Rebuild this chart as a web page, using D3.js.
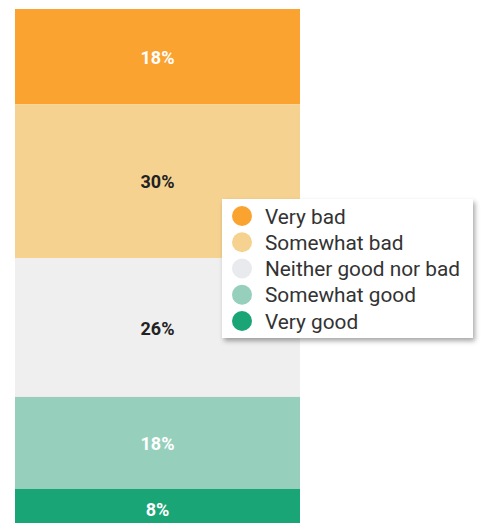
<!DOCTYPE html>
<html>
<head>
<meta charset="utf-8">
<script src="https://cdn.jsdelivr.net/npm/d3@7"></script>
<style>
  body { margin: 0; background: #fff; }
  svg { display: block; font-family: Roboto, "Noto Sans", sans-serif; }
</style>
</head>
<body>
<svg id="chart" width="481" height="523"></svg>
<script>
// answers, top to bottom of the bar
var categories = ['Very bad', 'Somewhat bad', 'Neither good nor bad', 'Somewhat good', 'Very good'];
var shares = [18.3, 29.6, 26.7, 17.7, 7.7];
var shareLabels = ['18%', '30%', '26%', '18%', '8%'];
var colors = ['#fba330', '#f6d291', '#efefef', '#96d0bc', '#1aa577'];
var labelColors = ['#fff', '#222', '#222', '#fff', '#fff'];

var svg = d3.select('#chart');

var BAR_LEFT = 15, BAR_RIGHT = 300;

// stack the shares
var stacked = [];
var acc = 0;
for (var i = 0; i < shares.length; i++) {
  stacked.push({ name: categories[i], y0: acc, y1: acc + shares[i], label: shareLabels[i], i: i });
  acc += shares[i];
}

var yScale = d3.scaleLinear()
  .domain([0, 100])
  .range([9, 529]);

var xScale = d3.scaleBand()
  .domain(['all'])
  .range([BAR_LEFT, BAR_RIGHT])
  .padding(0);

var bars = svg.append('g').attr('id', 'bars');

bars.selectAll('rect')
  .data(stacked)
  .enter()
  .append('rect')
  .attr('x', xScale('all'))
  .attr('width', xScale.bandwidth())
  .attr('y', function (d) { return yScale(d.y0); })
  .attr('height', function (d) { return yScale(d.y1) - yScale(d.y0); })
  .style('fill', function (d) { return colors[d.i]; });

bars.selectAll('text')
  .data(stacked)
  .enter()
  .append('text')
  .attr('x', xScale('all') + xScale.bandwidth() / 2)
  .attr('y', function (d) { return (yScale(d.y0) + yScale(d.y1)) / 2 + 1; })
  .attr('dy', '0.35em')
  .attr('text-anchor', 'middle')
  .style('font-size', '18px')
  .style('font-weight', 'bold')
  .style('fill', function (d) { return labelColors[d.i]; })
  .text(function (d) { return d.label; });

// ##### Legend #####
var defs = svg.append('defs');
var shadow = defs.append('filter').attr('id', 'shadow')
  .attr('x', '-10%').attr('y', '-10%').attr('width', '130%').attr('height', '130%');
shadow.append('feDropShadow')
  .attr('dx', 2).attr('dy', 3).attr('stdDeviation', 2.5)
  .attr('flood-color', '#000').attr('flood-opacity', 0.35);

var legend = svg.append('g').attr('transform', 'translate(222, 199)');

legend.append('rect')
  .attr('width', 251)
  .attr('height', 139)
  .style('fill', '#fff')
  .attr('filter', 'url(#shadow)');

var rowScale = d3.scalePoint()
  .domain(categories)
  .range([17, 122]);

var rows = legend.selectAll('g.row')
  .data(categories)
  .enter()
  .append('g')
  .attr('class', 'row')
  .attr('transform', function (d) { return 'translate(0,' + rowScale(d) + ')'; });

rows.append('circle')
  .attr('cx', 20)
  .attr('r', 10)
  .style('fill', function (d, i) { return i == 2 ? '#e8eaed' : colors[i]; });

rows.append('text')
  .attr('x', 43)
  .attr('dy', '0.36em')
  .style('font-size', '20.8px')
  .style('fill', '#333')
  .text(function (d) { return d; });
</script>
</body>
</html>
